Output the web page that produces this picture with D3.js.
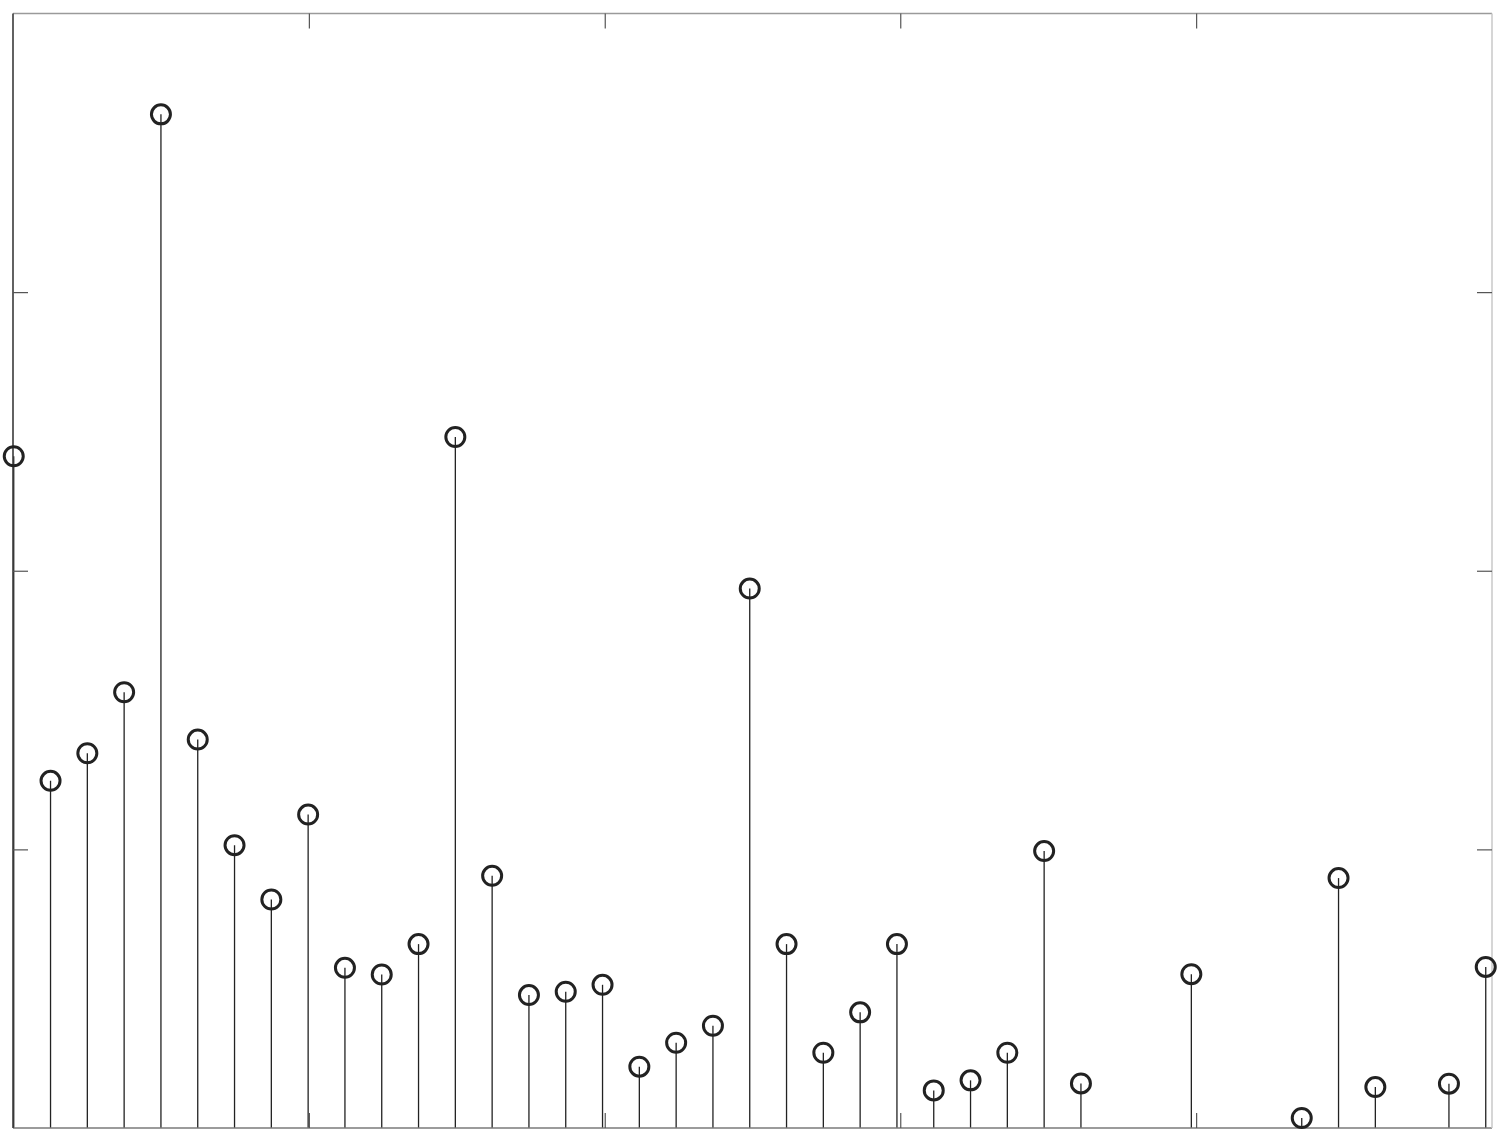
<!DOCTYPE html>
<html>
<head>
<meta charset="utf-8">
<script src="https://cdn.jsdelivr.net/npm/d3@7"></script>
<style>
  html, body { margin: 0; padding: 0; background: #fff; }
  svg { display: block; }
</style>
</head>
<body>
<svg id="chart" width="1506" height="1144"></svg>
<script>
// sample index (x) and stem heights (y); null = no sample drawn
const xIndex = [0,1,2,3,4,5,6,7,8,9,10,11,12,13,14,15,16,17,18,19,20,21,22,23,24,25,26,27,28,29,30,31,32,33,34,35,36,37,38,39,40];
const yValues = [2.411,1.246,1.345,1.564,3.638,1.394,1.015,0.820,1.125,0.575,0.551,0.660,2.480,0.905,0.477,0.489,0.514,0.220,0.306,0.367,1.936,0.660,0.270,0.415,0.660,0.135,0.171,0.270,0.994,0.160,null,null,0.552,null,null,0.036,0.897,0.147,null,0.159,0.578];
const xDomain = [-0.02, 40.17];
const yDomain = [0, 4];
const xTicks = [8.02, 16.06, 24.09, 32.13];
const yTicks = [1, 2, 3];

const svg = d3.select("#chart");
const L = 13, R = 1492, T = 13.5, B = 1128;
const x = d3.scaleLinear().domain(xDomain).range([L, R]);
const y = d3.scaleLinear().domain(yDomain).range([B, T]);
const tickLen = 15;

const data = xIndex.map((d, i) => ({x: d, y: yValues[i]})).filter(d => d.y !== null);

// stems
svg.append("g").selectAll("line").data(data).join("line")
  .attr("x1", d => x(d.x)).attr("x2", d => x(d.x))
  .attr("y1", y(0)).attr("y2", d => y(d.y))
  .attr("stroke", "#222").attr("stroke-width", 1.3);

// axes box lines
const box = svg.append("g");
box.append("line").attr("x1", L).attr("x2", R).attr("y1", T).attr("y2", T).attr("stroke", "#9a9a9a").attr("stroke-width", 1.5);
box.append("line").attr("x1", L).attr("x2", R).attr("y1", B).attr("y2", B).attr("stroke", "#7a7a7a").attr("stroke-width", 1.5);
box.append("line").attr("x1", L).attr("x2", L).attr("y1", T).attr("y2", B).attr("stroke", "#3a3a3a").attr("stroke-width", 1.6);
box.append("line").attr("x1", R).attr("x2", R).attr("y1", T).attr("y2", B).attr("stroke", "#c8c8c8").attr("stroke-width", 1.5);

// ticks via d3 axes (no labels)
const axBottom = d3.axisBottom(x).tickValues(xTicks).tickSize(-tickLen).tickFormat("");
const axTop = d3.axisTop(x).tickValues(xTicks).tickSize(-tickLen).tickFormat("");
const axLeft = d3.axisLeft(y).tickValues(yTicks).tickSize(-tickLen).tickFormat("");
const axRight = d3.axisRight(y).tickValues(yTicks).tickSize(-tickLen).tickFormat("");
[[axBottom, `translate(0,${B})`], [axTop, `translate(0,${T})`], [axLeft, `translate(${L},0)`], [axRight, `translate(${R},0)`]]
  .forEach(([ax, tr]) => {
    const g = svg.append("g").attr("transform", tr).call(ax);
    g.select(".domain").remove();
    g.selectAll(".tick line").attr("stroke", "#555").attr("stroke-width", 1.2);
  });

// markers
svg.append("g").selectAll("circle").data(data).join("circle")
  .attr("cx", d => x(d.x)).attr("cy", d => y(d.y)).attr("r", 9.5)
  .attr("fill", "none").attr("stroke", "#222").attr("stroke-width", 3);
</script>
</body>
</html>
